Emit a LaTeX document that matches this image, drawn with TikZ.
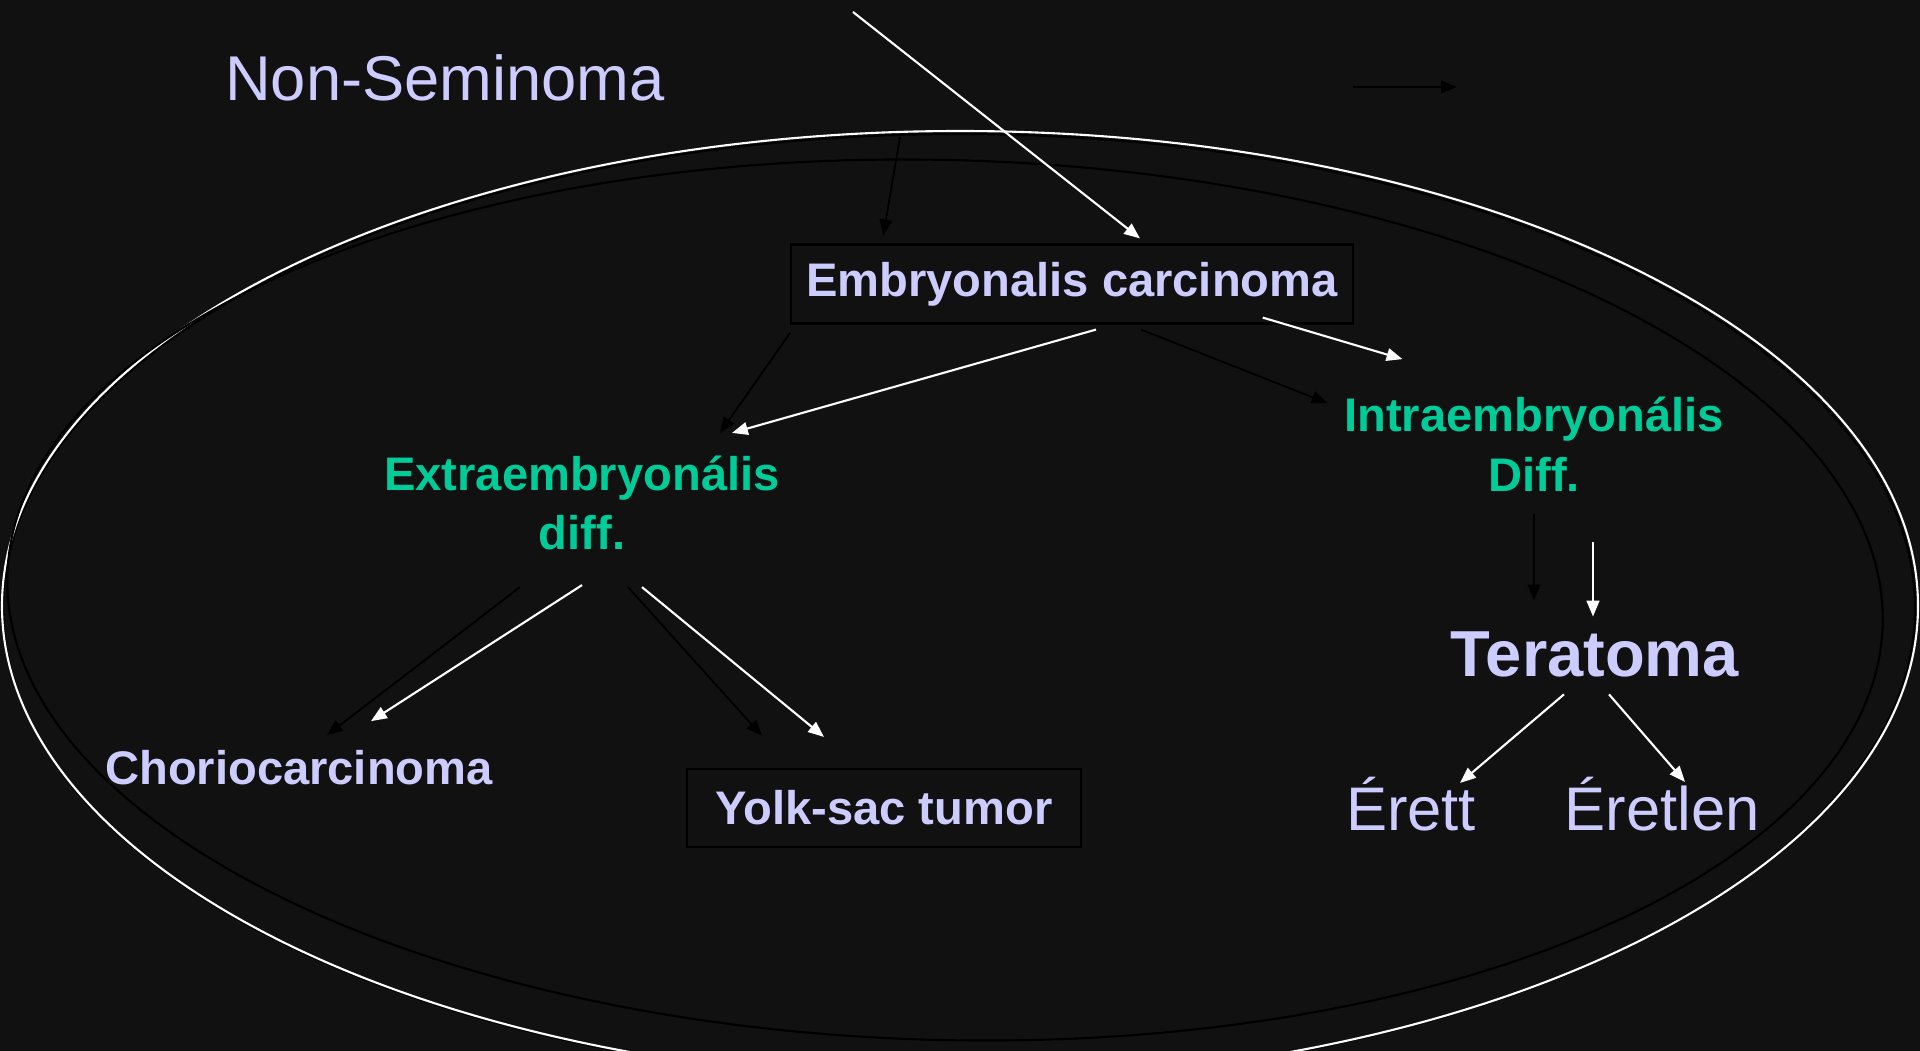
\documentclass[tikz,border=0pt]{standalone}
\usepackage{fontspec}
\setmainfont{Liberation Sans}
\usetikzlibrary{arrows.meta, calc}
\definecolor{bgdark}{HTML}{111111}
\definecolor{lavtext}{HTML}{CCCCFF}
\definecolor{greentext}{HTML}{00CC99}

\begin{document}
\begin{tikzpicture}[x=0.01cm, y=-0.01cm,
    title/.style={text=lavtext, inner sep=0pt, font=\fontsize{18}{22}\selectfont},
    tumor/.style={text=lavtext, inner sep=0pt, font=\fontsize{13.4}{17}\selectfont\bfseries},
    tumorbox/.style={tumor, draw=black, line width=0.6pt, minimum height=0.79cm},
    diffnode/.style={text=greentext, inner sep=0pt, align=center, font=\fontsize{13.4}{17}\selectfont\bfseries},
    subtype/.style={text=lavtext, inner sep=0pt, font=\fontsize{17.5}{21}\selectfont},
    warr/.style={-{Triangle[length=4.5pt, width=3.6pt]}, white, line width=0.6pt},
    barr/.style={-{Triangle[length=4.5pt, width=3.6pt]}, black, line width=0.5pt},
    ring/.style={line width=0.6pt}]
\fill[bgdark] (0,0) rectangle (1920,1051);
\useasboundingbox (0,0) rectangle (1920,1051);
\begin{scope}
\clip (0,0) rectangle (1920,1051);
\draw[ring, black] (959,608) ellipse [x radius=956, y radius=474];
\draw[ring, white] (960,606) ellipse [x radius=958, y radius=475];
\draw[ring, black, rotate around={-1.5:(945,600)}] (945,600) ellipse [x radius=938, y radius=440];
\end{scope}
\node[title, anchor=base] (nonsem) at (445,100) {Non-Seminoma};
\node[tumorbox, minimum width=5.61cm] (emb) at (1072,284) {Embryonalis carcinoma};
\node[diffnode] (extra) at (582,503) {Extraembryonális\\diff.};
\node[diffnode] (intra) at (1534,444) {Intraembryonális\\Diff.};
\node[tumor, anchor=base] (chorio) at (299,784) {Choriocarcinoma};
\node[tumorbox, minimum width=3.93cm, minimum height=0.78cm] (yolk) at (884,808) {Yolk-sac tumor};
\node[tumor, anchor=base, font=\fontsize{18.5}{22}\selectfont\bfseries] (tera) at (1595,676) {Teratoma};
\node[subtype, anchor=base] (erett) at (1411,830) {Érett};
\node[subtype, anchor=base] (eretlen) at (1662,830) {Éretlen};
\coordinate (topin) at (853,12);
\coordinate (sidein) at (900,137);
\coordinate (legs) at (1353,87);
\coordinate (lege) at (1457,87);
\draw[warr] (topin) -- ($(emb.north)+(68,-5)$);
\draw[barr] (sidein) -- ($(emb.north west)+(93,-8)$);
\draw[barr] (legs) -- (lege);
\draw[warr] ($(emb.south)+(24,5)$) -- ($(extra.north)+(150,-22)$);
\draw[barr] ($(emb.south west)+(0,8)$) -- ($(extra.north)+(138,-22)$);
\draw[warr] ($(emb.south east)+(-91,-7)$) -- ($(intra.north west)+(59,-37)$);
\draw[barr] ($(emb.south)+(69,5)$) -- ($(intra.north west)+(-16,7)$);
\draw[warr] ($(extra.south)+(0,34)$) -- ($(chorio.north)+(72,-28)$);
\draw[barr] ($(extra.south)+(-62,36)$) -- ($(chorio.north)+(28,-14)$);
\draw[warr] ($(extra.south)+(60,36)$) -- ($(yolk.north)+(-60,-31)$);
\draw[barr] ($(extra.south)+(46,36)$) -- ($(yolk.north)+(-122,-32)$);
\draw[barr] ($(intra.south)+(0,22)$) -- ($(tera.north)+(-61,-30)$);
\draw[warr] ($(intra.south)+(59,50)$) -- ($(tera.north)+(-2,-14)$);
\draw[warr] ($(tera.south)+(-31,17)$) -- ($(erett.north)+(49,7)$);
\draw[warr] ($(tera.south)+(14,17)$) -- ($(eretlen.north)+(23,6)$);
\end{tikzpicture}
\end{document}
